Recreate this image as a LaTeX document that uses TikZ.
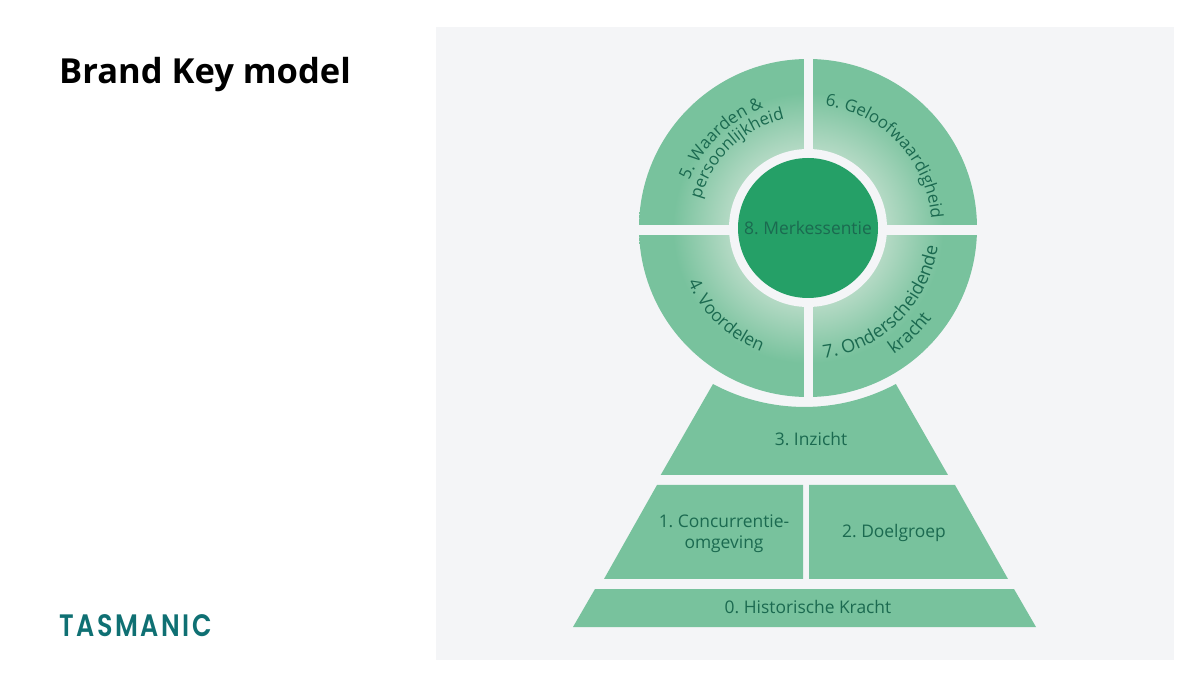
\documentclass[tikz,border=0pt]{standalone}
\usepackage{fontspec}
\setmainfont{Open Sans}
\newfontfamily\logofont[LetterSpace=10]{Poppins SemiBold}
\usepackage{xcolor}
\usetikzlibrary{calc,decorations.text}
\definecolor{panelc}{HTML}{F4F5F7}
\definecolor{ringc}{HTML}{78C29D}
\definecolor{glowc}{HTML}{B5DAC5}
\definecolor{corec}{HTML}{25A067}
\definecolor{labelc}{HTML}{1B6A50}
\definecolor{logoc}{HTML}{0F7073}
\pgfdeclareradialshading{ringglow}{\pgfpoint{0bp}{0bp}}{color(0bp)=(glowc); color(11.5bp)=(glowc); color(20bp)=(ringc); color(50bp)=(ringc)}
\newcommand{\ringfont}{\fontsize{17.4}{21}\selectfont\color{labelc}}
\newcommand{\wideringfont}{\fontsize{18.2}{21}\selectfont\color{labelc}}
\newcommand{\tightringfont}{\fontsize{16.9}{21}\selectfont\color{labelc}}
\tikzset{
  block/.style={fill=ringc},
  blocklabel/.style={text=labelc,font=\ringfont,align=center,inner sep=0pt},
  gapbar/.style={fill=panelc},
  arclabel/.style={decorate,decoration={text along path,text align=left,text={#1}}}
}
\frenchspacing
\begin{document}
\begin{tikzpicture}[line cap=butt,line join=miter,x=1pt,y=1pt]
    \useasboundingbox (0,0) rectangle (1200,686);
    \fill [white] (0,0) rectangle (1200,686);
    \fill [panelc] (436,26) rectangle (1174,659);
    \coordinate (hub) at (808,458);
    % wheel
    \shade [shading=ringglow] (hub) circle (169);
    \fill [gapbar] (803.5,280) rectangle (812.5,636);
    \fill [gapbar] (630,451) rectangle (986,461);
    \fill [gapbar] (hub) circle (79);
    \fill [corec] (hub) circle (70);
    % pyramid
    \fill [block] (660.7,211) -- (713,302) arc (-118.2:-61.8:193.5) -- (948,211) -- cycle;
    \fill [block] (657,201) -- (803,201) -- (803,107) -- (604,107) -- cycle;
    \fill [block] (809,201) -- (955,201) -- (1008,107) -- (809,107) -- cycle;
    \fill [block] (595,97) -- (1014,97) -- (1036,59) -- (573,59) -- cycle;
    % labels
    \node [blocklabel] (merk) at (808,458) {8. Merkessentie};
    \node [blocklabel] (inzicht) at (811,247) {3. Inzicht};
    \node [blocklabel] (concurrentie) at (724,152) {1. Concurrentie-\\omgeving};
    \node [blocklabel] (doelgroep) at (894,153) {2. Doelgroep};
    \node [blocklabel] (historie) at (808,79) {0. Historische Kracht};
    \path [arclabel={|\ringfont|4. Voordelen}] ($(hub)+(204.5:132)$) arc (204.5:262:132);
    \path [arclabel={|\tightringfont|5. Waarden {\&}}] ($(hub)+(158:128)$) arc (158:95:128);
    \path [arclabel={|\tightringfont|persoonlijkheid}] ($(hub)+(165:111)$) arc (165:90:111);
    \path [arclabel={|\tightringfont|6. Geloofwaardigheid}] ($(hub)+(82:123.5)$) arc (82:-5:123.5);
    \path [arclabel={|\wideringfont|7. Onderscheidende}] ($(hub)+(-83:131)$) arc (-83:0:131);
    \path [arclabel={|\wideringfont|kracht}] ($(hub)+(-56:153)$) arc (-56:-20:153);
    % heading and logo
    \node [anchor=base west,inner sep=0pt,font=\fontsize{34.5}{40}\selectfont\bfseries] (title) at (59,602) {Brand Key model};
    \node [anchor=base west,inner sep=0pt,text=logoc,font=\fontsize{31}{32}\selectfont\logofont,transform shape,xscale=.82] (logo) at (59,50) {TASMANIC};
\end{tikzpicture}
\end{document}
